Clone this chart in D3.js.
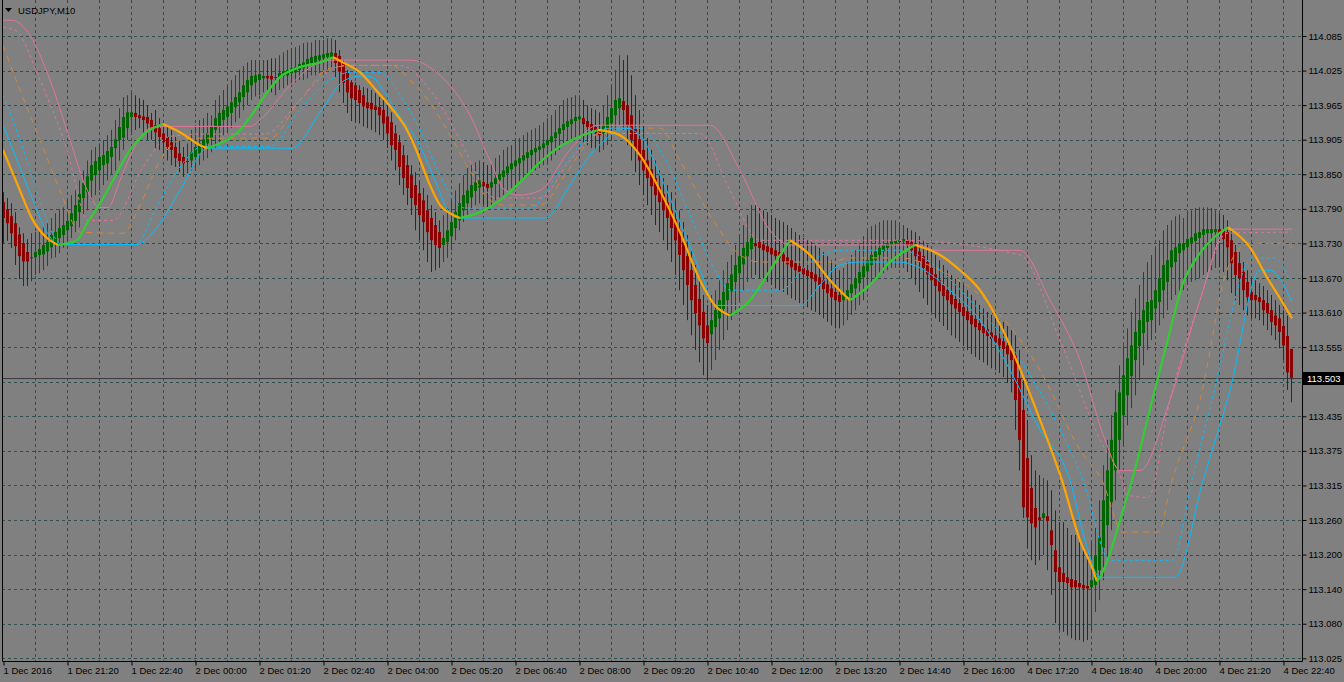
<!DOCTYPE html>
<html>
<head>
<meta charset="utf-8">
<script src="https://cdn.jsdelivr.net/npm/d3@7"></script>
<style>
    html, body { margin: 0; padding: 0; background: #808080; }
    svg { display: block; }
    text { font-family: "Liberation Sans", Arial, sans-serif; }
</style>
</head>
<body>
<svg id="chart" width="1344" height="682"></svg>
<script>
//
// ***********************************************************************************
//                      DATA
//      prices are kept in points above 113.000 (1 point = 0.001 JPY)
// ***********************************************************************************
//

const symbolTitle = "USDJPY,M10";
const lastPrice = 113.503;

const yLabels = ["114.085", "114.025", "113.965", "113.905", "113.850", "113.790", "113.730",
    "113.670", "113.610", "113.555", "113.495", "113.435", "113.375", "113.315", "113.260",
    "113.200", "113.140", "113.080", "113.025"];

const xLabels = ["1 Dec 2016", "1 Dec 21:20", "1 Dec 22:40", "2 Dec 00:00", "2 Dec 01:20",
    "2 Dec 02:40", "2 Dec 04:00", "2 Dec 05:20", "2 Dec 06:40", "2 Dec 08:00", "2 Dec 09:20",
    "2 Dec 10:40", "2 Dec 12:00", "2 Dec 13:20", "2 Dec 14:40", "2 Dec 16:00", "4 Dec 17:20",
    "4 Dec 18:40", "4 Dec 20:00", "4 Dec 21:20", "4 Dec 22:40"];

const openPts = [
    802,790,778,766,747,732,717,708,708,712, 713,718,725,732,741,746,754,761,770,785,
    809,819,839,848,856,865,868,879,894,908, 912,928,947,954,950,948,947,942,933,928,
    919,913,904,896,885,879,872,873,879,885, 894,902,911,925,931,942,947,954,964,972,
    981,989,1001,1006,1010,1013,1017,1017,1015,1013, 1017,1018,1022,1023,1027,1030,1035,1039,1040,1044,
    1047,1049,1049,1056,1051,1039,1022,1006,1001,993, 984,972,971,965,964,959,948,938,919,904,
    882,865,848,831,817,805,788,775,763,751, 729,734,744,758,771,788,800,810,821,827,
    836,833,827,833,839,845,851,858,863,868, 873,877,882,887,891,894,899,904,911,918,
    925,930,935,940,943,945,940,935,930,925, 919,926,936,950,962,974,967,950,928,909,
    891,873,858,843,829,816,802,788,773,754, 734,710,686,661,637,615,592,577,589,604,
    620,635,650,666,681,696,710,722,732,734, 730,727,724,720,717,713,708,703,698,693,
    690,686,683,679,674,669,662,655,649,644, 635,640,647,655,664,674,684,695,703,712,
    718,724,729,732,734,735,737,734,727,718, 710,700,690,679,669,661,652,644,637,630,
    623,616,609,603,596,591,586,580,575,570, 565,558,550,541,502,448,366,315,281,265,
    264,267,243,209,180,170,163,160,158,153, 150,148,146,150,175,213,252,291,345,397,
    439,473,506,533,557,579,598,601,621,632, 652,666,691,700,715,720,725,732,736,741,
    746,749,749,751,756,754,751,737,717,698, 683,666,649,644,640,635,630,618,609,604,
    591,574,552];

const closePts = [
    775,766,749,727,710,701,701,708,717,722, 729,734,746,751,758,763,770,783,797,816,
    834,846,865,872,879,882,889,896,909,930, 947,955,955,947,945,942,936,925,921,913,
    904,896,891,877,872,868,872,887,896,902, 909,919,930,945,954,959,965,972,981,989,
    1001,1010,1017,1018,1020,1017,1013,1011,1015,1022, 1025,1027,1030,1032,1037,1040,1046,1049,1051,1052,
    1054,1056,1057,1039,1025,1005,989,979,976,971, 965,962,960,959,950,936,919,899,891,862,
    843,826,809,797,780,768,751,737,729,724, 741,754,768,785,800,814,822,831,836,839,
    829,826,836,843,850,856,863,868,873,877, 882,887,891,894,897,902,908,914,921,928,
    935,940,943,947,948,935,930,925,919,916, 933,947,962,976,979,959,933,908,891,873,
    856,843,829,814,802,788,775,758,737,712, 686,661,635,613,592,570,562,601,618,635,
    649,664,679,695,710,724,734,741,727,724, 720,717,713,710,707,701,696,691,686,683,
    679,676,672,667,661,654,647,640,635,632, 645,652,662,672,683,693,703,712,718,724,
    729,732,735,737,737,739,729,720,710,700, 690,679,669,659,650,642,635,628,621,615,
    608,601,594,589,584,579,574,569,563,558, 552,543,533,465,397,282,265,255,248,260,
    272,259,218,172,155,155,153,146,146,146, 144,144,158,199,231,294,345,397,444,478,
    507,536,558,581,601,618,632,635,652,672, 695,703,720,725,732,732,739,742,749,751,
    756,756,756,756,749,739,725,698,678,672, 652,640,635,635,632,618,613,598,592,581,
    558,512,503];

const highPts = [
    819,809,800,785,759,749,739,749,751,753, 759,766,775,783,790,793,805,814,822,839,
    856,873,891,896,902,908,916,925,942,962, 981,984,989,984,979,976,967,954,959,945,
    930,933,925,913,908,896,902,925,933,942, 945,954,950,976,984,993,1001,1010,1018,1027,
    1034,1040,1044,1044,1044,1044,1044,1047,1047,1052, 1057,1061,1064,1066,1069,1073,1074,1074,1078,1078,
    1078,1081,1081,1078,1061,1044,1027,1010,1006,1001, 998,996,993,988,981,976,967,955,933,916,
    899,882,865,853,839,826,814,797,785,771, 780,792,805,822,834,848,860,865,870,873,
    870,865,868,877,882,891,896,899,908,911, 916,921,925,928,933,938,945,950,959,967,
    976,979,981,984,984,976,967,962,959,955, 967,984,1001,1027,1052,1044,1052,1018,984,959,
    933,911,891,873,856,843,831,819,805,788, 768,746,720,695,669,644,627,644,652,669,
    686,700,712,729,746,763,780,797,797,792, 788,785,780,775,771,768,763,758,751,746,
    741,737,734,729,724,717,710,703,695,686, 690,700,712,720,732,744,754,761,764,768,
    771,771,771,771,768,763,758,754,751,744, 737,729,720,712,703,695,686,678,672,666,
    661,652,644,635,627,621,615,610,604,601, 598,591,584,575,550,499,431,371,345,337,
    332,328,311,277,257,257,247,235,235,223, 214,197,226,247,294,354,397,439,482,524,
    558,587,615,638,661,683,700,712,724,737, 754,763,771,778,781,775,785,788,792,793,
    793,793,792,788,783,780,771,754,729,717, 700,686,672,669,664,659,652,644,635,627,
    618,609,552];

const lowPts = [
    732,736,724,695,671,659,659,667,678,681, 686,693,706,708,715,724,732,741,751,759,
    780,788,805,814,822,831,839,848,856,873, 891,908,916,925,928,916,908,908,894,891,
    885,873,865,862,853,845,851,856,860,865, 873,877,887,894,904,916,921,928,938,945,
    959,967,976,982,984,989,993,989,984,993, 996,1001,1001,1006,1010,1010,1013,1018,1018,1022,
    1027,1027,1027,1015,989,971,954,940,938,936, 931,928,925,921,916,908,894,873,856,831,
    814,797,780,754,737,720,700,683,686,690, 700,707,720,737,754,768,780,792,797,800,
    797,792,797,805,809,814,822,826,831,836, 843,848,853,856,860,865,870,873,882,891,
    899,904,908,912,912,904,899,894,891,887, 891,899,908,925,933,925,899,873,853,831,
    814,797,780,763,751,737,720,700,678,652, 627,601,575,550,529,507,499,516,533,550,
    567,584,601,618,635,652,666,672,678,672, 669,666,661,655,652,649,644,638,635,630,
    627,623,618,615,610,604,598,592,587,587, 592,601,610,618,627,635,649,661,669,676,
    681,686,690,690,690,690,683,672,661,649, 638,627,615,604,598,591,584,575,570,564,
    557,550,543,538,533,529,524,519,516,511, 504,494,478,414,345,264,213,192,184,192,
    201,175,133,85,73,70,64,59,56,56, 53,56,73,104,124,158,192,243,294,345,
    388,422,451,473,499,524,550,567,581,592, 604,618,635,644,649,652,661,666,669,672,
    678,683,686,690,691,683,669,647,635,627, 618,609,604,604,601,592,584,575,567,553,
    533,482,461];

// Indicator lines: [bar index, points]
const trendLine = [
    [0,891],[3.5,834],[7.5,771],[11,741],[13.75,729],[18.5,737],[21,766],[24.25,800],[27.5,839],
    [31.75,891],[35.5,919],[40,935],[44.75,919],[49.25,899],[51,894],[56,908],[59.25,925],
    [62.5,954],[66,989],[69.25,1015],[74.25,1032],[79.25,1040],[82.5,1049],[85,1040],[89.25,1023],
    [93.5,991],[97.5,959],[101,925],[103,896],[106.75,831],[109.25,797],[111.75,783],[114.25,775],
    [119.25,785],[124.25,805],[129.25,836],[134.25,870],[139.25,897],[144.25,914],[148.75,925],
    [154.25,916],[159.25,882],[164.25,822],[169.25,751],[174.25,669],[178,626],[181.75,609],
    [186.75,635],[191.75,686],[196.75,737],[201.75,712],[206.75,669],[211.75,635],[216.75,661],
    [221.75,700],[228,729],[234.25,712],[239.25,686],[244.25,652],[249.25,594],[254.25,518],
    [259.25,431],[264.75,328],[269.25,226],[272.25,180],[273.5,156],[274.25,163],[276.75,204],
    [279.25,260],[282.25,328],[287.5,470],[291,562],[295,664],[299.25,715],[303.5,746],
    [306.25,759],[311.75,725],[316,674],[320,630],[322.25,604]];

const cyanSolid = [
    [0,933],[2.5,891],[7.5,805],[11,751],[13.75,730],[33.5,730],[38.5,759],[44.25,822],[51.25,894],
    [72.25,894],[79.25,955],[85.5,1010],[89.75,1017],[92.25,1015],[95.5,988],[99.25,947],
    [103.5,908],[108,839],[111.25,788],[113.75,775],[135.5,775],[141.75,831],[146.75,882],
    [150.5,908],[155.5,928],[159.25,916],[164.25,848],[169.25,768],[174.25,686],[178.25,626],
    [199.25,626],[204.25,661],[209.25,695],[214.25,700],[224.25,700],[229.25,690],[236.75,652],
    [244.25,601],[251.75,516],[259.25,414],[266.75,328],[270.5,226],[274.25,163],[293,163],
    [300,328],[306.75,482],[314.25,686],[316.75,686],[322.25,632]];

const cyanDashed = [
    [0,984],[4.25,908],[9.25,805],[13,741],[14.75,730],[33,730],[39.25,805],[45.5,873],[49.75,897],
    [66.75,897],[74.25,959],[81.75,1010],[86.75,1023],[94.25,1023],[99.25,984],[104.25,925],
    [109.25,848],[113.75,797],[115.5,792],[131.75,792],[139.25,856],[145.5,908],[150.5,928],
    [159.25,928],[164.25,891],[171.75,780],[178,686],[181.75,652],[194.25,652],[201.75,700],
    [209.25,720],[224.25,720],[231.75,700],[241.75,635],[251.75,558],[261.75,448],[270,328],
    [276.75,192],[292.25,192],[297.25,328],[302.25,465],[312.5,707],[318,707],[321.75,666]];

const peruDashed = [
    [0,1069],[4.25,993],[9.25,908],[14.25,822],[19.25,751],[30,749],[34.25,797],[39.25,873],
    [44.25,908],[48.5,911],[66.75,911],[74.25,976],[81.75,1030],[88,1035],[97.25,1035],
    [101.75,1010],[106.75,971],[111.75,916],[116.75,856],[121.75,805],[125.5,797],[134.25,797],
    [140.5,848],[146.75,908],[151.75,928],[164.25,928],[169.25,873],[176.75,780],[184.25,712],
    [189.25,700],[206.75,700],[211.75,707],[224.25,707],[234.25,686],[246.75,628],[259.25,516],
    [269.25,380],[274.75,328],[280,240],[288.75,240],[292.25,328],[299.25,465],[306.25,691],
    [311.75,732],[321,732],[322.25,724]];

const pinkSolid = [
    [0,1112],[2.25,1112],[6.75,1086],[11.75,1010],[16.75,908],[20.5,831],[24.25,793],[26.25,793],
    [29.25,839],[32.5,891],[36.75,928],[40,931],[61.75,931],[64.25,942],[71.75,1001],[79.25,1040],
    [83,1044],[101.75,1044],[109.25,1018],[116.75,950],[121.75,873],[125.5,822],[129.25,814],
    [134.25,822],[141.75,891],[148.75,933],[176.75,933],[184.25,856],[191.75,754],[196.75,729],
    [229.25,729],[233,720],[254.25,720],[261.75,635],[269.25,533],[275.5,397],[279.25,345],
    [284.25,345],[291.75,465],[299.25,635],[306,756],[322.25,756]];

const pinkDashed = [
    [0,1100],[3,1095],[9.25,1010],[16,891],[21.25,771],[27.5,771],[35,862],[41.75,914],[49.25,918],
    [65.5,918],[74.25,976],[81.75,1027],[85.5,1035],[99.25,1035],[106.75,993],[114.25,908],
    [119.25,839],[123,809],[134.25,809],[141.75,873],[149.25,919],[174.25,919],[181.75,822],
    [189.25,737],[224.25,737],[254.25,712],[264.25,567],[274.25,397],[279.75,328],[281,303],
    [286.25,299],[291.75,465],[299.25,635],[306,749],[322.25,751]];

//
// ***********************************************************************************
//                      SCALES AND LAYOUT
// ***********************************************************************************
//

const svg = d3.select("#chart");
const plot = { left: 2, right: 1302, top: 0, bottom: 661 };
const toPrice = v => 113 + v / 1000;

const x = d3.scaleLinear().domain([0, 322]).range([3, 1291]);
const y = d3.scaleLinear().domain([113.025, 114.085]).range([658.3, 36]);

// MT4 puts its price labels on equally spaced rows
const yTickValues = yLabels.map((d, k) => 114.085 - k * (114.085 - 113.025) / (yLabels.length - 1));
const xTickValues = xLabels.map((d, k) => k * 16);

const gridColor = "#2f4f4f";

// Grid
svg.append("g")
    .selectAll("line")
    .data(yTickValues)
    .join("line")
        .attr("x1", plot.left)
        .attr("x2", plot.right)
        .attr("y1", d => Math.round(y(d)) + 0.5)
        .attr("y2", d => Math.round(y(d)) + 0.5)
        .attr("stroke", gridColor)
        .attr("stroke-dasharray", "3,3");

svg.append("g")
    .selectAll("line")
    .data(d3.range(8, 321, 8))
    .join("line")
        .attr("x1", d => Math.round(x(d)) + 0.5)
        .attr("x2", d => Math.round(x(d)) + 0.5)
        .attr("y1", plot.top)
        .attr("y2", plot.bottom)
        .attr("stroke", gridColor)
        .attr("stroke-dasharray", "3,3");

// Last price line
svg.append("line")
    .attr("x1", plot.left)
    .attr("x2", plot.right)
    .attr("y1", Math.round(y(lastPrice)) + 0.5)
    .attr("y2", Math.round(y(lastPrice)) + 0.5)
    .attr("stroke", "#3a3a3a");

//
// ***********************************************************************************
//                      CANDLES
// ***********************************************************************************
//

const bars = openPts.map((o, i) => ({
    i: i,
    open: toPrice(o),
    close: toPrice(closePts[i]),
    high: toPrice(highPts[i]),
    low: toPrice(lowPts[i])
}));

const candleColor = d => d.close > d.open ? "#006400" : (d.close < d.open ? "#8b0000" : "#800080");

const candles = svg.append("g")
    .selectAll("g")
    .data(bars)
    .join("g");

candles.append("line")
    .attr("x1", d => Math.round(x(d.i)) + 0.5)
    .attr("x2", d => Math.round(x(d.i)) + 0.5)
    .attr("y1", d => y(d.high))
    .attr("y2", d => y(d.low))
    .attr("stroke", candleColor);

candles.append("rect")
    .attr("x", d => Math.round(x(d.i)) - 1)
    .attr("width", 3)
    .attr("y", d => y(Math.max(d.open, d.close)))
    .attr("height", d => Math.max(1, Math.abs(y(d.open) - y(d.close))))
    .attr("fill", candleColor);

//
// ***********************************************************************************
//                      INDICATOR LINES
// ***********************************************************************************
//

const line = d3.line()
    .x(d => x(d[0]))
    .y(d => y(toPrice(d[1])))
    .curve(d3.curveMonotoneX);

const envelopes = [
    { data: peruDashed, color: "#d2863c", dash: "6,5" },
    { data: pinkSolid, color: "#e2739b", dash: null },
    { data: pinkDashed, color: "#e2739b", dash: "3,3" },
    { data: cyanDashed, color: "#00bfff", dash: "3,3" },
    { data: cyanSolid, color: "#00bfff", dash: null }
];

svg.append("g")
    .selectAll("path")
    .data(envelopes)
    .join("path")
        .attr("d", d => line(d.data))
        .attr("fill", "none")
        .attr("stroke", d => d.color)
        .attr("stroke-width", 1)
        .attr("stroke-dasharray", d => d.dash);

// Split the trend line into rising (green) and falling (orange) runs
function splitRuns(points) {
    let runs = [];
    let current = [points[0]];
    let dir = null;
    for (let k = 1; k < points.length; k++) {
        let d = points[k][1] >= points[k - 1][1] ? "up" : "down";
        if (dir !== null && d !== dir) {
            runs.push({ dir: dir, pts: current });
            current = [points[k - 1]];
        }
        dir = d;
        current.push(points[k]);
    }
    runs.push({ dir: dir, pts: current });
    return runs;
}

svg.append("g")
    .selectAll("path")
    .data(splitRuns(trendLine))
    .join("path")
        .attr("d", d => line(d.pts))
        .attr("fill", "none")
        .attr("stroke", d => d.dir === "up" ? "#32cd32" : "#ffa500")
        .attr("stroke-width", 2.2)
        .attr("stroke-linejoin", "round");

//
// ***********************************************************************************
//                      FRAME AND AXES
// ***********************************************************************************
//

svg.append("path")
    .attr("d", `M${plot.left + 0.5},${plot.top}V${plot.bottom + 0.5}H${plot.right + 0.5}V${plot.top}`)
    .attr("fill", "none")
    .attr("stroke", "#000");

svg.append("g")
    .attr("transform", `translate(${plot.right + 0.5},0)`)
    .call(d3.axisRight(y)
        .tickValues(yTickValues)
        .tickFormat((d, k) => yLabels[k])
        .tickSize(4)
        .tickPadding(2))
    .call(g => g.select(".domain").remove())
    .call(g => g.selectAll("line").attr("stroke", "#000"))
    .call(g => g.selectAll("text")
        .attr("fill", "#000")
        .style("font-size", "9.5px"));

svg.append("g")
    .attr("transform", `translate(0,${plot.bottom + 0.5})`)
    .call(d3.axisBottom(x)
        .tickValues(xTickValues)
        .tickFormat((d, k) => xLabels[k])
        .tickSize(4)
        .tickPadding(2))
    .call(g => g.select(".domain").remove())
    .call(g => g.selectAll(".tick line")
        .attr("stroke", "#000")
        .attr("transform", "translate(0.5,0)"))
    .call(g => g.selectAll("text")
        .attr("fill", "#000")
        .attr("text-anchor", "start")
        .style("font-size", "9.5px"));

// Last price tag, drawn over the row label it covers as in the terminal
const tagY = Math.round(y(lastPrice));
svg.append("rect")
    .attr("x", plot.right + 1)
    .attr("y", tagY - 6)
    .attr("width", 41)
    .attr("height", 13)
    .attr("fill", "#000");
svg.append("text")
    .attr("x", plot.right + 5)
    .attr("y", tagY + 0.5)
    .attr("dy", "0.35em")
    .attr("fill", "#fff")
    .style("font-size", "9.5px")
    .text(lastPrice.toFixed(3));

// Title
svg.append("path")
    .attr("d", "M5,8H12L8.5,12Z")
    .attr("fill", "#000");
svg.append("text")
    .attr("x", 18)
    .attr("y", 14)
    .attr("fill", "#000")
    .style("font-size", "9.5px")
    .text(symbolTitle);
</script>
</body>
</html>
